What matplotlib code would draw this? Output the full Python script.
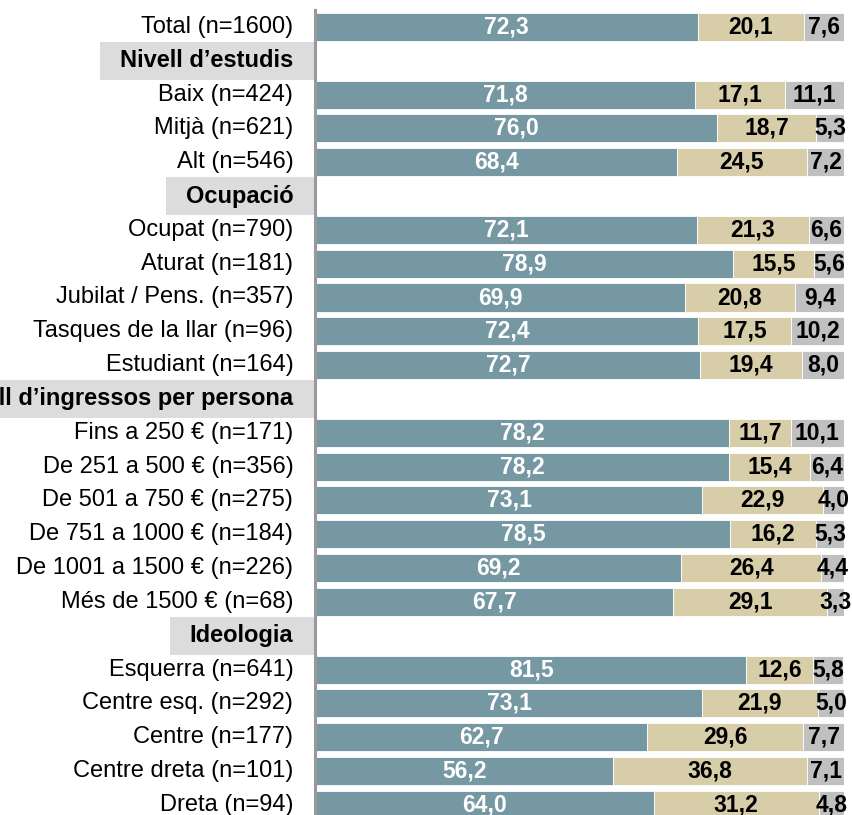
import matplotlib.pyplot as plt
import matplotlib.transforms as mtransforms
from matplotlib.patches import Rectangle

plt.rcParams['font.family'] = ['Liberation Sans', 'DejaVu Sans']

# rows from top to bottom; None values mark a section header
labels = ["Total (n=1600)",
          "Nivell d\u2019estudis",
          "Baix (n=424)", "Mitjà (n=621)", "Alt (n=546)",
          "Ocupació",
          "Ocupat (n=790)", "Aturat (n=181)", "Jubilat / Pens. (n=357)",
          "Tasques de la llar (n=96)", "Estudiant (n=164)",
          "Nivell d\u2019ingressos per persona",
          "Fins a 250 € (n=171)", "De 251 a 500 € (n=356)", "De 501 a 750 € (n=275)",
          "De 751 a 1000 € (n=184)", "De 1001 a 1500 € (n=226)", "Més de 1500 € (n=68)",
          "Ideologia",
          "Esquerra (n=641)", "Centre esq. (n=292)", "Centre (n=177)",
          "Centre dreta (n=101)", "Dreta (n=94)"]
blue = [72.3, None, 71.8, 76.0, 68.4, None, 72.1, 78.9, 69.9, 72.4, 72.7, None,
        78.2, 78.2, 73.1, 78.5, 69.2, 67.7, None, 81.5, 73.1, 62.7, 56.2, 64.0]
beige = [20.1, None, 17.1, 18.7, 24.5, None, 21.3, 15.5, 20.8, 17.5, 19.4, None,
         11.7, 15.4, 22.9, 16.2, 26.4, 29.1, None, 12.6, 21.9, 29.6, 36.8, 31.2]
grey = [7.6, None, 11.1, 5.3, 7.2, None, 6.6, 5.6, 9.4, 10.2, 8.0, None,
        10.1, 6.4, 4.0, 5.3, 4.4, 3.3, None, 5.8, 5.0, 7.7, 7.1, 4.8]

colors = ["#7598a3", "#d7cea9", "#c0c0c0"]
txtcol = ["white", "black", "black"]

W, H = 852, 815
fig = plt.figure(figsize=(W / 100, H / 100), dpi=100)
ax = fig.add_axes([316 / W, 0, (844 - 316) / W, (H - 10) / H])

def fmt(v):
    return f"{v:.1f}".replace(".", ",")

headers = []
for i, lab in enumerate(labels):
    if blue[i] is None:
        t = ax.text(-0.043, i, lab, transform=ax.get_yaxis_transform(),
                    ha="right", va="center", fontsize=17, fontweight="bold", zorder=3)
        headers.append((i, t))
        continue
    ax.text(-0.043, i, lab, transform=ax.get_yaxis_transform(),
            ha="right", va="center", fontsize=17)
    left = 0
    for k, vals in enumerate([blue, beige, grey]):
        v = vals[i]
        ax.barh(i, v, left=left, height=0.83, color=colors[k],
                edgecolor="white", linewidth=0.6)
        ax.text(left + v / 2, i, fmt(v), ha="center", va="center",
                fontsize=16.5, fontweight="bold", color=txtcol[k], clip_on=False)
        left += v

ax.set_xlim(0, 100)
ax.set_ylim(23.3, -0.5)
for s in ["top", "right", "bottom"]:
    ax.spines[s].set_visible(False)
ax.spines["left"].set_color("#999999")
ax.spines["left"].set_linewidth(2.2)
ax.spines["left"].set_position(("outward", 1))
ax.set_xticks([])
ax.set_yticks([])

# grey boxes behind the section headers
fig.canvas.draw()
r = fig.canvas.get_renderer()
trans = mtransforms.blended_transform_factory(fig.transFigure, ax.transData)
for i, t in headers:
    bb = t.get_window_extent(renderer=r)
    x0 = max(bb.x0 - 20, 0) / W
    fig.patches.append(Rectangle((x0, i - 0.56), 315 / W - x0, 1.12,
                                 transform=trans, facecolor="#dcdcdc",
                                 edgecolor="none", zorder=-1))

fig.savefig("out.png", dpi=100)
